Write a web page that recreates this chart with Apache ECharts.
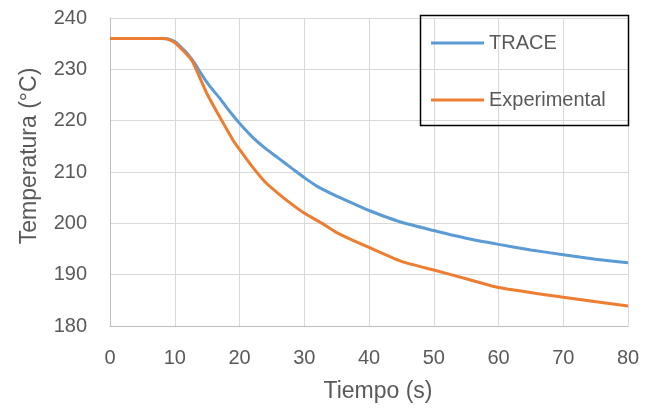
<!DOCTYPE html>
<html><head><meta charset="utf-8">
<script src="https://cdn.jsdelivr.net/npm/echarts@6/dist/echarts.min.js"></script>
<style>html,body{margin:0;padding:0;background:#fff}#c{width:652px;height:408px}</style>
</head><body><div id="c"></div>
<script>
const xTitle = 'Tiempo (s)';
const yTitle = 'Temperatura (°C)';
const seriesNames = ['TRACE', 'Experimental'];
const traceTime = [0, 8, 9, 10, 11, 12, 13, 14, 15, 16, 17, 18, 19, 20, 22, 24, 26, 28, 30, 32, 35, 38, 40, 45, 50, 55, 60, 65, 70, 75, 80];
const traceTemp = [236, 236, 235.9, 235.4, 234.3, 233.0, 231.3, 229.3, 227.4, 225.8, 224.3, 222.6, 221.0, 219.5, 216.8, 214.6, 212.7, 210.8, 208.9, 207.2, 205.3, 203.6, 202.5, 200.2, 198.6, 197.1, 195.9, 194.8, 193.9, 193.0, 192.3];
const expTime = [0, 8.5, 10, 12.6, 14, 15, 17, 19, 20, 22, 24, 26, 28, 30, 33, 35, 40, 45, 50, 55, 60, 70, 80];
const expTemp = [236, 236, 235.2, 231.8, 228.0, 225.2, 220.6, 216.2, 214.4, 211.0, 208.0, 205.8, 203.8, 202.0, 199.8, 198.2, 195.3, 192.6, 190.9, 189.2, 187.5, 185.6, 183.9];

const pair = (xs, ys) => xs.map((x, i) => [x, ys[i]]);
const font = 'Liberation Sans';
const txt = '#595959';
const chart = echarts.init(document.getElementById('c'), null, {renderer: 'canvas'});
chart.setOption({
  animation: false,
  backgroundColor: '#fff',
  grid: {left: 110, right: 24, top: 18, bottom: 81},
  xAxis: {
    type: 'value', min: 0, max: 80, interval: 10,
    name: xTitle, nameLocation: 'middle', nameGap: 54,
    nameTextStyle: {fontFamily: font, fontSize: 23, color: txt, padding: [0, 0, 0, 18]},
    axisLine: {show: true, lineStyle: {color: '#BFBFBF', width: 1}},
    axisTick: {show: false},
    axisLabel: {fontFamily: font, fontSize: 20, color: txt, margin: 22},
    splitLine: {show: true, lineStyle: {color: '#D9D9D9', width: 1}}
  },
  yAxis: {
    type: 'value', min: 180, max: 240, interval: 10,
    name: yTitle, nameLocation: 'middle', nameGap: 69, nameRotate: 90,
    nameTextStyle: {fontFamily: font, fontSize: 23, color: txt, padding: [0, 0, 0, 32]},
    axisLine: {show: true, lineStyle: {color: '#BFBFBF', width: 1}},
    axisTick: {show: false},
    axisLabel: {fontFamily: font, fontSize: 20, color: txt, margin: 23},
    splitLine: {show: true, lineStyle: {color: '#D9D9D9', width: 1}}
  },
  legend: {
    orient: 'vertical', left: 426, top: 28, itemGap: 37, padding: 5,
    itemWidth: 53, itemHeight: 3, icon: 'rect',
    textStyle: {fontFamily: font, fontSize: 20, color: txt},
    data: seriesNames
  },
  graphic: [{
    type: 'rect', left: 418, top: 13, z: 100, silent: true,
    shape: {width: 208, height: 110},
    style: {fill: null, stroke: '#000', lineWidth: 1.5}
  }],
  series: [
    {name: seriesNames[0], type: 'line', data: pair(traceTime, traceTemp), showSymbol: false, symbol: 'none',
     smooth: 0.2, lineStyle: {color: '#5B9BD5', width: 3}, itemStyle: {color: '#5B9BD5'}},
    {name: seriesNames[1], type: 'line', data: pair(expTime, expTemp), showSymbol: false, symbol: 'none',
     smooth: 0.2, lineStyle: {color: '#ED7D31', width: 3}, itemStyle: {color: '#ED7D31'}}
  ]
});
</script></body></html>
